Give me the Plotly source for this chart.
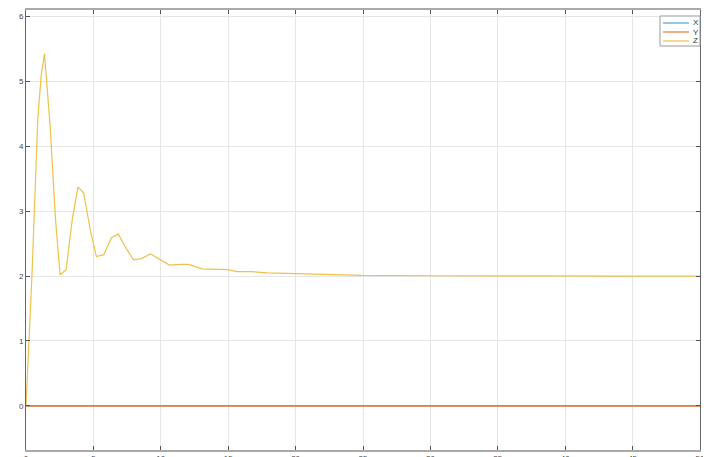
import plotly.graph_objects as go

t = [0, 0.45, 0.87, 1.12, 1.37, 1.79, 2.19, 2.53, 2.98, 3.43, 3.85, 4.28, 4.77,
     5.22, 5.77, 6.34, 6.84, 7.42, 7.98, 8.55, 9.25, 9.95, 10.64, 11.44, 12.06,
     13.06, 13.93, 14.92, 15.67, 16.66, 17.9, 19.9, 20.4, 22.9, 24.9, 30, 35, 40, 45, 50]
z = [0, 2.05, 4.41, 5.08, 5.43, 4.31, 2.87, 2.02, 2.10, 2.87, 3.37, 3.28, 2.71,
     2.30, 2.33, 2.59, 2.65, 2.43, 2.25, 2.27, 2.34, 2.26, 2.17, 2.18, 2.18,
     2.11, 2.10, 2.10, 2.07, 2.07, 2.05, 2.04, 2.03, 2.02, 2.01, 2.005, 2.0, 2.0, 2.0, 2.0]
x_vals = [0.0] * len(t)
y_vals = [0.0] * len(t)

series_names = ["X", "Y", "Z"]
series_colors = ["#4DA3D6", "#E5793A", "#EDC14A"]

x_ticks = [0, 5, 10, 15, 20, 25, 30, 35, 40, 45, 50]
y_ticks = [0, 1, 2, 3, 4, 5, 6]

fig = go.Figure()
for name, vals, color, w in zip(series_names, [x_vals, y_vals, z], series_colors, [0.8, 1.6, 1.2]):
    fig.add_trace(go.Scatter(x=t, y=vals, mode="lines", name=name,
                             line=dict(color=color, width=w)))

axis_common = dict(
    showgrid=True, gridcolor="#e6e6e6", gridwidth=1,
    ticks="inside", ticklen=4, tickcolor="#555",
    showline=True, mirror="ticks", zeroline=False, automargin=False,
    tickfont=dict(family="Liberation Sans, Arial", size=8, color="#444"),
)

# manual MATLAB-style legend box (paper coordinates, from window pixels)
W, H, L, T = 674.0, 440.0, 26.0, 10.0
def px(xp):
    return (xp - L) / W
def py(yp):
    return 1 - (yp - T) / H

shapes = [dict(type="rect", xref="paper", yref="paper",
               x0=px(660), x1=px(700), y0=py(46), y1=py(16),
               line=dict(color="#999", width=1), fillcolor="white", layer="above")]
annotations = []
for i, (name, color) in enumerate(zip(series_names, series_colors)):
    yy = 23 + 9 * i
    shapes.append(dict(type="line", xref="paper", yref="paper",
                       x0=px(663), x1=px(689), y0=py(yy), y1=py(yy),
                       line=dict(color=color, width=1.2), layer="above"))
    annotations.append(dict(xref="paper", yref="paper", x=px(691), y=py(yy),
                            xanchor="left", yanchor="middle", text=name, showarrow=False,
                            font=dict(family="Liberation Sans, Arial", size=8, color="#333")))

# page body has an 8px margin: size the figure so it ends at the window edge
fig.update_layout(
    width=703, height=449,
    margin=dict(l=18, r=11, t=2, b=7),
    paper_bgcolor="white", plot_bgcolor="white",
    showlegend=False,
    shapes=shapes, annotations=annotations,
    xaxis=dict(range=[0, 50], tickvals=x_ticks, linecolor="#aaa", linewidth=1.5,
               **axis_common),
    yaxis=dict(range=[-0.68, 6.1], tickvals=y_ticks, linecolor="#666", linewidth=1,
               **axis_common),
)

fig.write_html("out.html")
